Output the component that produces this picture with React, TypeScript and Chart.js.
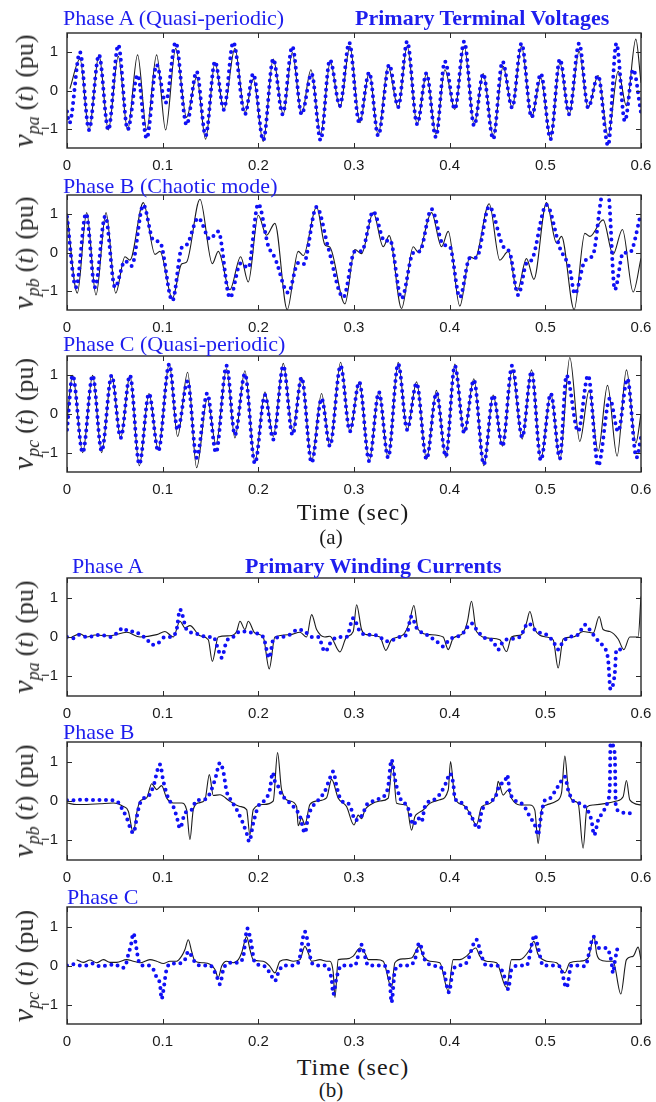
import React, { useEffect, useRef } from 'react';
import { Chart, registerables } from 'chart.js';

Chart.register(...registerables);

type Pt = [number, number];

const timeTicks = [0, 0.1, 0.2, 0.3, 0.4, 0.5, 0.6];
const timeTickLabels = ['0', '0.1', '0.2', '0.3', '0.4', '0.5', '0.6'];
const puTicks = [-1, 0, 1];
const puTickLabels = ['\u22121', '0', '1'];

// ---------- (a) Primary terminal voltages ----------
const voltageASim: Pt[] = [
  [0.003, 0.05], [0.0136, 0.82], [0.023, -1.03], [0.0334, 0.93], [0.0432, -1.03], [0.0536, 0.89],
  [0.0634, -1.03], [0.0738, 0.93], [0.0833, -1.03], [0.0937, 0.93], [0.1031, -1.03], [0.1136, 1.1],
  [0.125, -0.7], [0.1355, 0.35], [0.1449, -1.27], [0.1547, 0.73], [0.164, -0.5], [0.1755, 1.1],
  [0.186, -0.58], [0.1947, 0.3], [0.2051, -1.33], [0.2156, 0.82], [0.226, -0.62], [0.2355, 0.99],
  [0.2452, -0.62], [0.255, 0.54], [0.2651, -1.15], [0.2752, 0.75], [0.2853, -0.45], [0.2957, 1.15],
  [0.3062, -0.84], [0.3159, 0.47], [0.3253, -1.16], [0.3357, 0.63], [0.3462, -0.45], [0.3556, 1.16],
  [0.366, -0.88], [0.3758, 0.44], [0.3856, -1.14], [0.395, 0.54], [0.4054, -0.49], [0.4152, 1.16],
  [0.4256, -0.9], [0.435, 0.44], [0.4455, -1.18], [0.4559, 0.63], [0.4653, -0.45], [0.4751, 1.16],
  [0.4856, -0.7], [0.4953, 0.33], [0.5054, -1.25], [0.5152, 0.72], [0.5249, -0.62], [0.5353, 1.02],
  [0.5447, -0.45], [0.5552, 0.39], [0.5656, -1.18], [0.5761, 0.5], [0.5848, -0.4], [0.5946, 1.34],
  [0.6, 0.2],
];
const voltageAMeas: Pt[] = [
  [0.0, -0.55], [0.0025, -0.85], [0.0136, 1.0], [0.023, -1.03], [0.0334, 0.93], [0.0432, -1.03],
  [0.0536, 1.19], [0.0634, -1.02], [0.0738, 0.41], [0.0833, -1.25], [0.0937, 0.67], [0.1031, -0.32],
  [0.1136, 1.26], [0.125, -0.9], [0.1355, 0.5], [0.1449, -1.18], [0.1547, 0.76], [0.164, -0.5],
  [0.1738, 1.26], [0.186, -0.62], [0.1947, 0.44], [0.2051, -1.3], [0.2156, 0.82], [0.2254, -0.62],
  [0.2355, 1.15], [0.2452, -0.62], [0.2557, 0.44], [0.2651, -1.3], [0.2748, 0.8], [0.2853, -0.4],
  [0.295, 1.25], [0.3055, -0.84], [0.3159, 0.47], [0.3253, -1.18], [0.3368, 0.67], [0.3462, -0.43],
  [0.3556, 1.28], [0.366, -0.88], [0.3758, 0.45], [0.3856, -1.22], [0.395, 0.76], [0.4054, -0.49],
  [0.4152, 1.28], [0.4256, -0.92], [0.435, 0.44], [0.4455, -1.27], [0.4552, 0.76], [0.4653, -0.45],
  [0.4751, 1.23], [0.4856, -0.7], [0.4953, 0.44], [0.5054, -1.27], [0.5152, 0.82], [0.5249, -0.62],
  [0.5353, 1.23], [0.5447, -0.45], [0.5552, 0.39], [0.5656, -1.44], [0.5743, 1.23], [0.5831, -0.8],
  [0.5918, 0.55], [0.6, -0.58],
];

const voltageBSim: Pt[] = [
  [0.0, 1.02], [0.0108, -1.06], [0.0206, 1.04], [0.0303, -1.11], [0.0408, 1.04], [0.0509, -1.06],
  [0.0606, -0.11], [0.0658, -0.2], [0.0798, 1.3], [0.092, -0.05], [0.0972, 0.03], [0.1101, -1.2],
  [0.1198, -0.3], [0.125, -0.25], [0.139, 1.39], [0.1519, -0.29], [0.1581, 0.03], [0.1703, -0.97],
  [0.1815, -0.11], [0.1895, -0.77], [0.1999, 0.97], [0.2086, 0.45], [0.2173, 0.76], [0.2302, -1.49],
  [0.2417, 0.03], [0.247, -0.08], [0.2609, 1.19], [0.2696, 0.2], [0.2748, 0.14], [0.2905, -1.34],
  [0.3009, 0.08], [0.3079, -0.03], [0.3201, 1.04], [0.3305, 0.15], [0.3368, 0.44], [0.3497, -1.46],
  [0.3619, 0.15], [0.3671, 0.01], [0.381, 1.04], [0.3915, 0.15], [0.3985, 0.55], [0.4106, -1.4],
  [0.4211, -0.11], [0.4263, -0.16], [0.4413, 1.27], [0.4524, -0.2], [0.4612, 0.03], [0.4706, -1.0],
  [0.4803, -0.16], [0.488, -0.7], [0.5012, 1.3], [0.5117, 0.25], [0.5169, 0.42], [0.5301, -1.49],
  [0.5413, 0.5], [0.5465, 0.42], [0.5604, 0.85], [0.5708, -0.05], [0.5806, 0.6], [0.5918, -1.03],
  [0.6, -0.15],
];
const voltageBMeas: Pt[] = [
  [0.0, 0.93], [0.0094, -0.91], [0.0199, 1.02], [0.0293, -0.91], [0.04, 0.95], [0.0502, -0.91],
  [0.0606, -0.22], [0.0676, -0.35], [0.0798, 1.24], [0.0902, 0.32], [0.0972, 0.27], [0.1101, -1.26],
  [0.1198, 0.12], [0.125, 0.2], [0.1372, 0.9], [0.1494, 0.35], [0.1581, 0.55], [0.1703, -1.18],
  [0.1815, -0.28], [0.1895, -0.4], [0.1999, 1.27], [0.2104, 0.17], [0.2173, -0.14], [0.2313, -1.05],
  [0.2417, -0.27], [0.247, -0.31], [0.2609, 1.19], [0.2731, 0.12], [0.2888, -1.17], [0.3009, 0.03],
  [0.3079, 0.03], [0.3201, 1.07], [0.3323, 0.29], [0.3375, 0.33], [0.3497, -1.2], [0.3619, -0.01],
  [0.3688, 0.03], [0.381, 1.13], [0.3932, 0.21], [0.4002, 0.15], [0.4106, -1.17], [0.4211, -0.14],
  [0.428, -0.14], [0.4413, 1.2], [0.4559, 0.16], [0.4629, -0.01], [0.4716, -1.11], [0.4803, -0.28],
  [0.4856, -0.2], [0.5012, 1.24], [0.5152, 0.12], [0.5256, -0.44], [0.5308, -1.08], [0.5413, -0.22],
  [0.55, -0.05], [0.5604, 1.55], [0.5656, 1.55], [0.5726, -0.97], [0.5813, -0.01], [0.5883, 0.0],
  [0.6, 1.02],
];

const voltageCSim: Pt[] = [
  [0.0, -0.15], [0.0059, 1.0], [0.0164, -1.0], [0.0268, 1.0], [0.0362, -1.0], [0.0467, 1.0],
  [0.0561, -0.62], [0.0658, 1.0], [0.0756, -1.34], [0.0857, 0.53], [0.0954, -0.92], [0.1069, 1.3],
  [0.1156, -0.58], [0.1261, 1.08], [0.1355, -1.39], [0.1467, 0.4], [0.1557, -0.79], [0.1668, 1.17],
  [0.1755, -0.62], [0.186, 1.12], [0.1964, -1.24], [0.2069, 0.57], [0.2156, -0.58], [0.2261, 1.31],
  [0.2358, -0.45], [0.2452, 0.95], [0.2557, -1.22], [0.2661, 0.53], [0.2748, -0.83], [0.286, 1.34],
  [0.2957, -0.45], [0.3055, 0.83], [0.3159, -1.22], [0.326, 0.57], [0.3357, -1.13], [0.3462, 1.34],
  [0.3556, -0.41], [0.3654, 0.83], [0.3758, -1.17], [0.3862, 0.61], [0.396, -1.13], [0.4054, 1.29],
  [0.4152, -0.49], [0.4253, 0.91], [0.4357, -1.34], [0.4455, 0.49], [0.4552, -0.83], [0.4653, 1.14],
  [0.4758, -0.65], [0.4856, 1.14], [0.4953, -1.17], [0.5057, 0.53], [0.5152, -1.19], [0.5256, 1.46],
  [0.536, -0.71], [0.5458, 0.61], [0.5552, -0.96], [0.565, 0.74], [0.575, -1.09], [0.5848, 1.14],
  [0.5946, -0.75], [0.6, 0.0],
];
const voltageCMeas: Pt[] = [
  [0.0, -0.41], [0.0059, 1.0], [0.0164, -1.0], [0.0268, 1.0], [0.0362, -0.96], [0.0467, 1.0],
  [0.0561, -0.62], [0.0658, 1.0], [0.0756, -1.3], [0.0857, 0.53], [0.0954, -0.96], [0.1069, 1.29],
  [0.1156, -0.41], [0.1261, 0.85], [0.1355, -1.13], [0.1467, 0.54], [0.1557, -1.0], [0.1668, 1.25],
  [0.1755, -0.54], [0.186, 1.04], [0.1964, -1.28], [0.2069, 0.49], [0.2156, -0.66], [0.2261, 1.25],
  [0.2358, -0.54], [0.2452, 0.95], [0.2557, -1.26], [0.2661, 0.4], [0.2748, -0.83], [0.286, 1.25],
  [0.2957, -0.45], [0.3055, 0.83], [0.3159, -1.22], [0.326, 0.57], [0.3357, -1.13], [0.3462, 1.3],
  [0.3556, -0.41], [0.3654, 0.8], [0.3758, -1.17], [0.3862, 0.55], [0.396, -1.1], [0.4054, 1.25],
  [0.4152, -0.49], [0.4253, 0.88], [0.4357, -1.3], [0.4455, 0.49], [0.4552, -0.83], [0.4653, 1.25],
  [0.4758, -0.6], [0.4856, 1.1], [0.4953, -1.2], [0.5057, 0.53], [0.5152, -1.15], [0.5221, 1.0],
  [0.5343, -0.45], [0.5447, 1.0], [0.5552, -1.34], [0.5674, 0.4], [0.5761, -0.45], [0.5858, 0.91],
  [0.5953, -1.13], [0.6, -0.6],
];

// ---------- (b) Primary winding currents ----------
const currentASim: Pt[] = [
  [0.0049, 0.0], [0.0136, 0.08], [0.0206, 0.0], [0.0293, 0.05], [0.045, 0.03], [0.0624, 0.12],
  [0.0763, 0.0], [0.0937, 0.06], [0.1024, 0.14], [0.1111, 0.0], [0.1181, 0.4], [0.1233, 0.23],
  [0.1285, 0.29], [0.139, 0.03], [0.1477, -0.07], [0.1519, -0.62], [0.1581, 0.0], [0.1703, 0.03],
  [0.1773, 0.14], [0.1808, 0.4], [0.186, 0.19], [0.1895, 0.4], [0.1964, 0.1], [0.2051, 0.0],
  [0.2114, -0.81], [0.2173, 0.0], [0.233, 0.06], [0.2435, 0.12], [0.2504, 0.0], [0.2557, 0.57],
  [0.2609, 0.19], [0.2696, 0.0], [0.2748, 0.02], [0.2853, -0.38], [0.2922, 0.0], [0.2992, 0.14],
  [0.3027, 0.82], [0.3079, 0.19], [0.3131, 0.06], [0.3271, 0.0], [0.3333, -0.34], [0.3392, -0.07],
  [0.3515, 0.06], [0.3577, 0.36], [0.3626, 0.8], [0.3671, 0.19], [0.3793, 0.06], [0.3932, 0.0],
  [0.3985, -0.32], [0.4037, -0.03], [0.4141, 0.1], [0.4186, 0.4], [0.4228, 0.91], [0.428, 0.14],
  [0.442, -0.03], [0.4524, -0.07], [0.4594, -0.37], [0.4646, 0.0], [0.4751, 0.06], [0.4803, 0.36],
  [0.4838, 0.65], [0.489, 0.19], [0.5012, 0.0], [0.5082, -0.07], [0.5134, -0.79], [0.5186, -0.05],
  [0.5291, 0.0], [0.5395, 0.14], [0.55, 0.1], [0.5563, 0.52], [0.5604, 0.19], [0.5674, 0.14],
  [0.5761, -0.05], [0.582, -0.32], [0.5883, 0.0], [0.597, 0.0], [0.6, 1.03],
];
const currentAMeas: Pt[] = [
  [0.0, 0.0], [0.0066, -0.03], [0.0136, 0.06], [0.0206, 0.0], [0.0275, 0.02], [0.0345, 0.06],
  [0.045, 0.0], [0.0502, 0.06], [0.0589, 0.23], [0.0641, 0.14], [0.0711, 0.14], [0.0763, 0.06],
  [0.0833, -0.05], [0.0885, -0.2], [0.0954, -0.15], [0.1024, 0.0], [0.1094, 0.0], [0.1146, 0.19],
  [0.1181, 0.7], [0.125, 0.19], [0.132, 0.1], [0.139, 0.06], [0.146, 0.0], [0.1529, 0.0],
  [0.1581, -0.32], [0.1616, -0.53], [0.1668, -0.11], [0.1738, 0.0], [0.1808, 0.14], [0.1878, 0.14],
  [0.1947, 0.1], [0.2051, 0.0], [0.2114, -0.53], [0.2156, -0.07], [0.2243, 0.0], [0.233, 0.06],
  [0.2417, 0.19], [0.2487, 0.14], [0.2557, 0.0], [0.2626, 0.0], [0.2696, -0.37], [0.2766, -0.1],
  [0.2853, 0.0], [0.2922, 0.0], [0.2992, 0.48], [0.3062, 0.14], [0.3131, 0.06], [0.3201, 0.06],
  [0.3271, 0.0], [0.334, -0.11], [0.341, -0.07], [0.348, 0.0], [0.3549, 0.06], [0.3601, 0.52],
  [0.3654, 0.23], [0.3758, 0.06], [0.3862, -0.11], [0.3932, -0.24], [0.4002, -0.05], [0.4071, 0.0],
  [0.4141, 0.1], [0.4228, 0.35], [0.428, 0.19], [0.435, 0.0], [0.4455, -0.11], [0.4507, -0.32],
  [0.4559, -0.11], [0.4629, -0.05], [0.4733, 0.0], [0.4821, 0.35], [0.4908, 0.14], [0.5012, 0.06],
  [0.5082, -0.11], [0.5134, -0.32], [0.5186, -0.11], [0.5256, 0.0], [0.5343, 0.06], [0.5413, 0.31],
  [0.5482, 0.12], [0.5535, -0.05], [0.5604, -0.24], [0.5656, -0.57], [0.5681, -1.33], [0.5726, -0.92],
  [0.5743, -0.32], [0.5813, -0.32], [0.5848, -0.32],
];

const currentBSim: Pt[] = [
  [0.0, -0.05], [0.0101, -0.09], [0.0206, -0.09], [0.0345, -0.07], [0.0484, -0.05], [0.0589, -0.14],
  [0.0641, -0.26], [0.0693, -0.81], [0.0728, -0.31], [0.0763, 0.0], [0.0833, 0.08], [0.0885, 0.44],
  [0.0937, 0.29], [0.0989, 0.39], [0.1041, 0.08], [0.1111, -0.05], [0.1198, -0.05], [0.125, -0.22],
  [0.1285, -0.98], [0.132, -0.22], [0.1372, -0.05], [0.1442, 0.03], [0.1488, 0.67], [0.1529, 0.14],
  [0.1599, 0.16], [0.1703, -0.01], [0.1808, -0.14], [0.1878, -0.22], [0.1912, -0.86], [0.1947, -0.22],
  [0.2051, -0.09], [0.2156, 0.0], [0.2201, 1.23], [0.2243, 0.29], [0.233, 0.0], [0.24, -0.14],
  [0.2417, -0.63], [0.2452, -0.43], [0.2487, -0.6], [0.2539, -0.09], [0.2609, 0.0], [0.2713, 0.08],
  [0.2766, 0.55], [0.2835, 0.07], [0.2922, -0.14], [0.2999, -0.61], [0.3044, -0.36], [0.3079, -0.45],
  [0.3114, -0.23], [0.3166, -0.1], [0.3271, 0.0], [0.3357, 0.07], [0.3403, 0.96], [0.3445, -0.06],
  [0.3549, -0.1], [0.3601, -0.74], [0.3636, -0.4], [0.3671, -0.31], [0.3723, -0.23], [0.3793, -0.06],
  [0.3897, 0.03], [0.3985, 0.28], [0.4009, 1.0], [0.4054, 0.07], [0.4141, -0.1], [0.4211, -0.31],
  [0.428, -0.61], [0.4333, -0.15], [0.442, -0.06], [0.449, 0.24], [0.4507, 0.5], [0.4559, 0.15],
  [0.4612, 0.28], [0.4646, 0.07], [0.4733, -0.1], [0.4838, -0.1], [0.489, -0.23], [0.4925, -1.08],
  [0.496, -0.23], [0.5012, -0.1], [0.5117, 0.0], [0.5169, 0.2], [0.5204, 1.14], [0.5239, 0.32],
  [0.5291, 0.0], [0.5343, -0.06], [0.5395, -1.2], [0.5436, -0.15], [0.55, -0.1], [0.5639, -0.06],
  [0.5743, 0.0], [0.5813, 0.11], [0.5848, 0.52], [0.5883, 0.03], [0.6, -0.1],
];
const currentBMeas: Pt[] = [
  [0.0, 0.02], [0.0066, 0.02], [0.0156, 0.03], [0.0223, 0.03], [0.031, 0.02], [0.038, 0.03],
  [0.0449, 0.02], [0.0519, 0.0], [0.0571, -0.18], [0.0617, -0.39], [0.0693, -0.81], [0.0745, -0.22],
  [0.078, 0.03], [0.085, 0.12], [0.0902, 0.37], [0.0972, 0.93], [0.1007, 0.5], [0.1059, 0.07],
  [0.1111, -0.14], [0.1146, -0.39], [0.1181, -0.69], [0.1233, -0.31], [0.1303, -0.22], [0.1355, 0.02],
  [0.1425, 0.03], [0.1477, 0.12], [0.1547, 0.54], [0.1599, 0.97], [0.1634, 0.75], [0.1668, 0.25],
  [0.1721, 0.0], [0.1773, -0.22], [0.1825, -0.48], [0.1878, -0.82], [0.1905, -1.03], [0.1947, -0.56],
  [0.1999, -0.14], [0.2069, 0.03], [0.2121, 0.29], [0.2149, 0.72], [0.2173, 0.5], [0.2208, 0.37],
  [0.2243, 0.16], [0.2295, 0.03], [0.2365, -0.14], [0.2435, -0.39], [0.2487, -0.81], [0.2522, -0.39],
  [0.2557, -0.18], [0.2626, 0.02], [0.2696, 0.25], [0.2748, 0.58], [0.2783, 0.75], [0.2818, 0.37],
  [0.287, 0.0], [0.294, -0.06], [0.2975, -0.23], [0.3009, -0.49], [0.3062, -0.44], [0.3096, -0.31],
  [0.3131, -0.1], [0.3201, 0.0], [0.3271, 0.07], [0.3323, 0.15], [0.3357, 0.37], [0.3392, 1.05],
  [0.3427, 0.58], [0.3445, 0.37], [0.3497, 0.0], [0.3549, -0.1], [0.3584, -0.31], [0.3619, -0.61],
  [0.3671, -0.44], [0.3706, -0.53], [0.374, -0.15], [0.3793, 0.0], [0.3862, 0.07], [0.3915, 0.24],
  [0.3967, 0.49], [0.4002, 0.7], [0.4037, 0.45], [0.4054, 0.07], [0.4106, -0.02], [0.4176, -0.19],
  [0.4228, -0.4], [0.4298, -0.7], [0.4333, -0.28], [0.4368, -0.1], [0.442, 0.0], [0.4472, 0.07],
  [0.4524, 0.41], [0.4577, 0.49], [0.4601, 0.66], [0.4629, 0.24], [0.4681, 0.02], [0.4751, -0.06],
  [0.4803, -0.23], [0.4838, -0.4], [0.489, -0.61], [0.4925, -0.87], [0.4943, -0.57], [0.4995, 0.02],
  [0.5047, 0.07], [0.5099, 0.24], [0.5152, 0.45], [0.5204, 0.62], [0.5239, 0.28], [0.5291, 0.0],
  [0.536, -0.06], [0.543, -0.19], [0.5482, -0.49], [0.551, -0.87], [0.5552, -0.49], [0.5604, -0.28],
  [0.5656, 0.02], [0.5674, 0.4], [0.5681, 1.47], [0.5726, 1.2], [0.5736, -0.1], [0.5778, -0.27],
  [0.5848, -0.31], [0.5918, -0.31],
];

const currentCSim: Pt[] = [
  [0.0101, 0.15], [0.0171, 0.08], [0.024, 0.14], [0.031, 0.07], [0.038, 0.15], [0.0449, 0.08],
  [0.0519, 0.08], [0.0624, 0.15], [0.0693, 0.11], [0.0763, 0.07], [0.0867, 0.15], [0.0937, 0.11],
  [0.1007, 0.05], [0.1076, 0.11], [0.1146, 0.11], [0.1198, 0.24], [0.1233, 0.41], [0.1268, 0.66],
  [0.1303, 0.36], [0.1338, 0.11], [0.1425, 0.07], [0.1494, 0.03], [0.1547, -0.1], [0.1581, -0.31],
  [0.1616, -0.02], [0.1668, 0.11], [0.1738, 0.07], [0.1791, 0.15], [0.1825, 0.32], [0.1878, 0.74],
  [0.1912, 0.41], [0.1947, 0.15], [0.2051, 0.11], [0.2121, -0.02], [0.2173, -0.19], [0.2226, 0.11],
  [0.2295, 0.15], [0.2365, 0.11], [0.2435, 0.15], [0.2487, 0.49], [0.2522, 0.32], [0.2557, 0.11],
  [0.2644, 0.15], [0.2713, 0.11], [0.2748, 0.11], [0.2783, -0.18], [0.2801, -0.82], [0.2835, 0.15],
  [0.2922, 0.17], [0.2992, 0.24], [0.3062, 0.45], [0.3114, 0.32], [0.3149, 0.15], [0.3236, 0.15],
  [0.3305, 0.11], [0.3392, -0.57], [0.3427, 0.07], [0.3515, 0.17], [0.3601, 0.19], [0.3682, 0.49],
  [0.3723, 0.24], [0.3793, 0.11], [0.3897, 0.07], [0.3985, -0.65], [0.4037, 0.15], [0.4106, 0.15],
  [0.4176, 0.24], [0.4273, 0.45], [0.4315, 0.24], [0.4385, 0.11], [0.449, 0.07], [0.4594, -0.57],
  [0.4646, 0.15], [0.4733, 0.15], [0.4838, 0.41], [0.488, 0.62], [0.4925, 0.28], [0.5012, 0.11],
  [0.5117, 0.07], [0.5204, -0.19], [0.5256, 0.07], [0.536, 0.11], [0.5447, 0.19], [0.551, 0.74],
  [0.5535, 0.32], [0.557, 0.15], [0.5639, 0.11], [0.5708, 0.11], [0.5789, -0.73], [0.5848, 0.15],
  [0.5918, 0.24], [0.597, 0.47], [0.6, 0.15],
];
const currentCMeas: Pt[] = [
  [0.0, 0.0], [0.0066, 0.03], [0.0136, 0.0], [0.0206, 0.0], [0.0275, 0.05], [0.0345, -0.02],
  [0.0415, 0.0], [0.0502, 0.03], [0.0571, -0.06], [0.0606, -0.03], [0.0641, 0.28], [0.0669, 0.53],
  [0.0693, 0.83], [0.0728, 0.41], [0.0745, 0.15], [0.078, 0.0], [0.085, 0.0], [0.0902, -0.1],
  [0.0937, -0.31], [0.0972, -0.48], [0.0989, -0.86], [0.1007, -0.65], [0.1041, -0.1], [0.1094, 0.05],
  [0.1163, 0.05], [0.1233, 0.15], [0.1268, 0.36], [0.1285, 0.32], [0.132, 0.15], [0.139, 0.0],
  [0.1494, 0.0], [0.1564, -0.27], [0.1599, -0.48], [0.1634, -0.1], [0.1703, 0.07], [0.1791, 0.07],
  [0.1843, 0.24], [0.1885, 0.95], [0.1919, 0.66], [0.1964, 0.07], [0.2051, 0.0], [0.2121, -0.19],
  [0.2173, -0.4], [0.2208, -0.19], [0.2261, 0.0], [0.233, 0.0], [0.2417, 0.07], [0.2487, 0.87],
  [0.2522, 0.53], [0.2557, 0.07], [0.2626, 0.0], [0.2696, 0.0], [0.2766, -0.36], [0.2783, -0.74],
  [0.2818, -0.31], [0.287, 0.0], [0.294, 0.0], [0.3009, 0.0], [0.3079, 0.53], [0.3096, 0.41],
  [0.3149, 0.0], [0.3236, 0.0], [0.3305, 0.0], [0.3375, -0.44], [0.3392, -0.95], [0.3427, -0.14],
  [0.348, 0.0], [0.3566, 0.0], [0.3636, 0.15], [0.3682, 0.58], [0.374, 0.15], [0.3828, 0.0],
  [0.3932, -0.1], [0.3992, -0.69], [0.4037, -0.1], [0.4106, 0.0], [0.4176, 0.07], [0.428, 0.66],
  [0.4333, 0.24], [0.4385, 0.0], [0.449, 0.0], [0.4559, -0.19], [0.4612, -0.61], [0.4646, -0.1],
  [0.4733, 0.0], [0.4803, 0.0], [0.489, 0.78], [0.4925, 0.45], [0.4977, 0.0], [0.5047, 0.0],
  [0.5152, -0.02], [0.5221, -0.57], [0.5273, 0.0], [0.5343, 0.0], [0.5413, -0.02], [0.5506, 0.74],
  [0.5552, 0.45], [0.5639, 0.45], [0.5691, 0.1], [0.5708, -0.2], [0.5726, 0.1], [0.5761, 0.53],
];

// ---------- layout & styles ----------
const BLUE = 'rgb(16,16,245)';
const TITLE_BLUE = 'rgb(30,30,238)';
const SERIF = '"Liberation Serif", "Times New Roman", serif';
const SANS = '"Liberation Sans", Arial, sans-serif';
const CANVAS_W = 680;
const PLOT_LEFT = 67;
const PLOT_RIGHT = 641;
const PAD_TOP = 24;
const AXIS_H = 30;

const frameTicks = {
  id: 'frameTicks',
  afterDraw(chart: any) {
    const { ctx, chartArea, scales } = chart;
    const { left, right, top, bottom } = chartArea;
    ctx.save();
    ctx.strokeStyle = '#2a2a2a';
    ctx.lineWidth = 1;
    const L = 5;
    ctx.beginPath();
    timeTicks.forEach((v) => {
      const px = Math.round(scales.x.getPixelForValue(v)) + 0.5;
      ctx.moveTo(px, bottom);
      ctx.lineTo(px, bottom - L);
      ctx.moveTo(px, top);
      ctx.lineTo(px, top + L);
    });
    puTicks.forEach((v) => {
      const py = Math.round(scales.y.getPixelForValue(v)) + 0.5;
      ctx.moveTo(left, py);
      ctx.lineTo(left + L, py);
      ctx.moveTo(right, py);
      ctx.lineTo(right - L, py);
    });
    ctx.stroke();
    ctx.lineWidth = 1.4;
    ctx.strokeRect(left, top, right - left, bottom - top);
    ctx.restore();
  },
};

function Panel({ sim, meas, plotTop, plotBottom }: { sim: Pt[]; meas: Pt[]; plotTop: number; plotBottom: number }) {
  const ref = useRef<HTMLCanvasElement>(null);
  const h = plotBottom - plotTop + PAD_TOP + AXIS_H;
  useEffect(() => {
    const chart = new Chart(ref.current as HTMLCanvasElement, {
      type: 'line',
      data: {
        datasets: [
          {
            data: meas.map(([x, y]) => ({ x, y })),
            borderColor: BLUE,
            borderWidth: 4,
            borderDash: [0, 6.5],
            borderCapStyle: 'round',
            pointRadius: 0,
            cubicInterpolationMode: 'monotone',
            order: 0,
          },
          {
            data: sim.map(([x, y]) => ({ x, y })),
            borderColor: '#1c1c1c',
            borderWidth: 1.1,
            pointRadius: 0,
            cubicInterpolationMode: 'monotone',
            order: 1,
          },
        ],
      } as any,
      options: {
        responsive: false,
        animation: false,
        devicePixelRatio: 1,
        events: [],
        layout: { padding: { top: PAD_TOP, left: 0, right: CANVAS_W - PLOT_RIGHT, bottom: 0 } },
        plugins: { legend: { display: false }, tooltip: { enabled: false } },
        scales: {
          x: {
            type: 'linear',
            min: 0,
            max: 0.6,
            grid: { display: false, drawTicks: false },
            border: { display: false },
            afterBuildTicks: (s: any) => {
              s.ticks = timeTicks.map((value) => ({ value }));
            },
            afterFit: (s: any) => {
              s.height = AXIS_H;
            },
            ticks: {
              padding: 9,
              maxRotation: 0,
              autoSkip: false,
              color: '#1a1a1a',
              font: { family: SANS, size: 15 },
              callback: (_v: any, i: number) => timeTickLabels[i],
            },
          },
          y: {
            type: 'linear',
            min: -1.5,
            max: 1.5,
            grid: { display: false, drawTicks: false },
            border: { display: false },
            afterBuildTicks: (s: any) => {
              s.ticks = puTicks.map((value) => ({ value }));
            },
            afterFit: (s: any) => {
              s.width = PLOT_LEFT;
            },
            ticks: {
              padding: 9,
              color: '#1a1a1a',
              font: { family: SANS, size: 15 },
              callback: (_v: any, i: number) => puTickLabels[i],
            },
          },
        },
      } as any,
      plugins: [frameTicks],
    });
    return () => chart.destroy();
  }, []);
  return (
    <canvas
      ref={ref}
      width={CANVAS_W}
      height={h}
      style={{ position: 'absolute', left: 0, top: plotTop - PAD_TOP, width: CANVAS_W, height: h }}
    />
  );
}

function Txt({ x, cy, size, bold, color, center, spacing, children }: any) {
  return (
    <div
      style={{
        position: 'absolute',
        left: x,
        top: cy,
        transform: center ? 'translate(-50%, -50%)' : 'translateY(-50%)',
        fontFamily: SERIF,
        fontSize: size,
        fontWeight: bold ? 'bold' : 'normal',
        letterSpacing: spacing || 0,
        color,
        lineHeight: 1,
        whiteSpace: 'nowrap',
      }}
    >
      {children}
    </div>
  );
}

function YLabel({ sub, cy }: { sub: string; cy: number }) {
  return (
    <div
      style={{
        position: 'absolute',
        left: 23,
        top: cy,
        transform: 'translate(-50%, -50%) rotate(-90deg)',
        fontFamily: SERIF,
        fontSize: 26,
        color: '#2a2a2a',
        lineHeight: 1,
        whiteSpace: 'nowrap',
      }}
    >
      <span style={{ fontStyle: 'italic', fontSize: 30 }}>v</span>
      <span style={{ fontStyle: 'italic', fontSize: 18, position: 'relative', top: 6 }}>{sub}</span>
      <span style={{ marginLeft: 6 }}>(</span>
      <span style={{ fontStyle: 'italic' }}>t</span>
      <span>)</span>
      <span style={{ marginLeft: 8 }}>(pu)</span>
    </div>
  );
}

const panels = [
  { sim: voltageASim, meas: voltageAMeas, top: 33, bottom: 148, sub: 'pa' },
  { sim: voltageBSim, meas: voltageBMeas, top: 195, bottom: 310, sub: 'pb' },
  { sim: voltageCSim, meas: voltageCMeas, top: 356, bottom: 472, sub: 'pc' },
  { sim: currentASim, meas: currentAMeas, top: 578, bottom: 696, sub: 'pa' },
  { sim: currentBSim, meas: currentBMeas, top: 742, bottom: 860, sub: 'pb' },
  { sim: currentCSim, meas: currentCMeas, top: 907, bottom: 1024, sub: 'pc' },
];

export default function App() {
  return (
    <div style={{ position: 'absolute', left: 0, top: 0, width: 656, height: 1102, background: '#fff', overflow: 'hidden' }}>
      {panels.map((p, i) => (
        <React.Fragment key={i}>
          <Panel sim={p.sim} meas={p.meas} plotTop={p.top} plotBottom={p.bottom} />
          <YLabel sub={p.sub} cy={(p.top + p.bottom) / 2} />
        </React.Fragment>
      ))}
      <Txt x={63} cy={18} size={22} color={TITLE_BLUE}>Phase A (Quasi-periodic)</Txt>
      <Txt x={355} cy={18} size={22} bold color={TITLE_BLUE}>Primary Terminal Voltages</Txt>
      <Txt x={63} cy={186} size={22} color={TITLE_BLUE}>Phase B (Chaotic mode)</Txt>
      <Txt x={63} cy={344} size={22} color={TITLE_BLUE}>Phase C (Quasi-periodic)</Txt>
      <Txt x={353} cy={512} size={24} spacing={1} color="#1a1a1a" center>Time (sec)</Txt>
      <Txt x={331} cy={537} size={21} color="#1a1a1a" center>(a)</Txt>
      <Txt x={72} cy={566} size={22} color={TITLE_BLUE}>Phase A</Txt>
      <Txt x={245} cy={566} size={22} bold color={TITLE_BLUE}>Primary Winding Currents</Txt>
      <Txt x={63} cy={732} size={22} color={TITLE_BLUE}>Phase B</Txt>
      <Txt x={67} cy={897} size={22} color={TITLE_BLUE}>Phase C</Txt>
      <Txt x={353} cy={1067} size={24} spacing={1} color="#1a1a1a" center>Time (sec)</Txt>
      <Txt x={331} cy={1090} size={21} color="#1a1a1a" center>(b)</Txt>
    </div>
  );
}
